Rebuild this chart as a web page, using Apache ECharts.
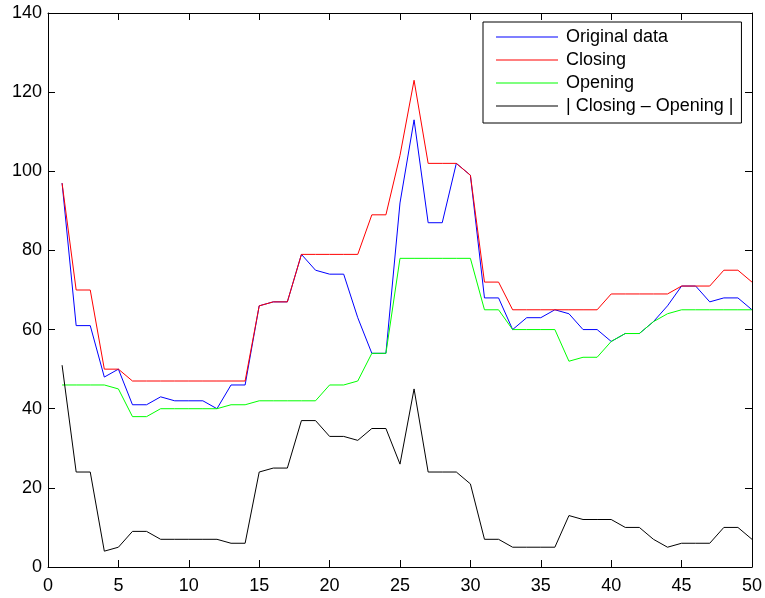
<!DOCTYPE html>
<html>
<head>
<meta charset="utf-8">
<script src="https://cdn.jsdelivr.net/npm/echarts@6/dist/echarts.min.js"></script>
<style>
  html, body { margin: 0; padding: 0; background: #fff; }
  #chart { width: 765px; height: 598px; }
</style>
</head>
<body>
<div id="chart"></div>
<script>
// values, sample index 1..50
const original = [97, 61, 61, 48, 50, 41, 41, 43, 42, 42, 42, 40, 46, 46, 66, 67, 67, 79, 75, 74,
  74, 63, 54, 54, 92, 113, 87, 87, 102, 99, 68, 68, 60, 63, 63, 65, 64, 60, 60, 57,
  59, 59, 62, 66, 71, 71, 67, 68, 68, 65]
const closing = [97, 70, 70, 50, 50, 47, 47, 47, 47, 47, 47, 47, 47, 47, 66, 67, 67, 79, 79, 79,
  79, 79, 89, 89, 104, 123, 102, 102, 102, 99, 72, 72, 65, 65, 65, 65, 65, 65, 65, 69,
  69, 69, 69, 69, 71, 71, 71, 75, 75, 72]
const opening = [46, 46, 46, 46, 45, 38, 38, 40, 40, 40, 40, 40, 41, 41, 42, 42, 42, 42, 42, 46,
  46, 47, 54, 54, 78, 78, 78, 78, 78, 78, 65, 65, 60, 60, 60, 60, 52, 53, 53, 57,
  59, 59, 62, 64, 65, 65, 65, 65, 65, 65]
const diff = [51, 24, 24, 4, 5, 9, 9, 7, 7, 7, 7, 7, 6, 6, 24, 25, 25, 37, 37, 33,
  33, 32, 35, 35, 26, 45, 24, 24, 24, 21, 7, 7, 5, 5, 5, 5, 13, 12, 12, 12,
  10, 10, 7, 5, 6, 6, 6, 10, 10, 7]
const seriesNames = ['Original data', 'Closing', 'Opening', '| Closing \u2013 Opening |']
const seriesColors = ['#0000ff', '#ff0000', '#00ff00', '#000000']

const font = 'Liberation Sans, Arial, Helvetica, sans-serif'
const chart = echarts.init(document.getElementById('chart'))

function pairs(arr) {
  return arr.map((v, i) => [i + 1, v])
}

const axisBase = {
  type: 'value',
  axisLine: { show: true, onZero: false, lineStyle: { color: '#000', width: 1 } },
  axisTick: { show: true, inside: true, length: 7, lineStyle: { color: '#000' } },
  splitLine: { show: false }
}

const option = {
  backgroundColor: '#fff',
  animation: false,
  grid: { left: 48, right: 13, top: 13, bottom: 31, containLabel: false },
  legend: {
    orient: 'vertical',
    left: 483,
    top: 22,
    padding: [6, 8, 8, 13],
    icon: 'rect',
    itemWidth: 62,
    itemHeight: 1,
    itemGap: 5,
    borderColor: '#000',
    borderWidth: 1,
    backgroundColor: '#fff',
    textStyle: { fontFamily: font, fontSize: 18, color: '#000', padding: [0, 0, 0, 3] },
    data: seriesNames
  },
  xAxis: [
    Object.assign({}, axisBase, {
      min: 0, max: 50, interval: 5, position: 'bottom',
      axisLabel: { color: '#000', fontFamily: font, fontSize: 18, margin: 10 }
    }),
    Object.assign({}, axisBase, {
      min: 0, max: 50, interval: 5, position: 'top',
      axisLabel: { show: false }
    })
  ],
  yAxis: [
    Object.assign({}, axisBase, {
      min: 0, max: 140, interval: 20, position: 'left',
      axisLabel: { color: '#000', fontFamily: font, fontSize: 18, margin: 6 }
    }),
    Object.assign({}, axisBase, {
      min: 0, max: 140, interval: 20, position: 'right',
      axisLabel: { show: false }
    })
  ],
  series: [original, closing, opening, diff].map((arr, k) => ({
    name: seriesNames[k],
    type: 'line',
    data: pairs(arr),
    symbol: 'none',
    lineStyle: { color: seriesColors[k], width: 1 },
    itemStyle: { color: seriesColors[k] }
  }))
}

chart.setOption(option)
</script>
</body>
</html>
